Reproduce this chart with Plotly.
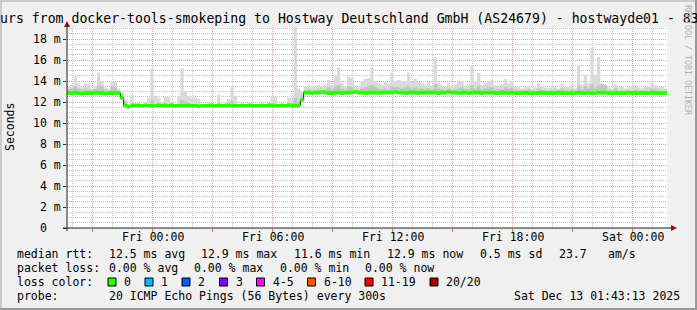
import plotly.graph_objects as go
import pandas as pd

# ---------------- data ----------------
START = "2025-12-11 19:43:13"
END = "2025-12-13 01:43:13"
STEP = "10min"

median_ms = [
    12.85, 12.85, 12.9, 12.85, 12.8, 12.85, 12.85, 12.85, 12.9, 12.85,
    12.85, 12.8, 12.85, 12.85, 12.85, 12.85, 12.4, 11.65, 11.55, 11.65,
    11.7, 11.65, 11.65, 11.7, 11.65, 11.65, 11.65, 11.7, 11.65, 11.65,
    11.65, 11.7, 11.65, 11.65, 11.65, 11.65, 11.7, 11.65, 11.65, 11.6,
    11.65, 11.65, 11.65, 11.7, 11.65, 11.65, 11.65, 11.65, 11.7, 11.65,
    11.65, 11.65, 11.65, 11.65, 11.7, 11.65, 11.65, 11.65, 11.65, 11.65,
    11.7, 11.65, 11.65, 11.65, 11.65, 11.65, 11.7, 11.65, 11.65, 11.65,
    12.2, 12.9, 12.9, 12.85, 12.9, 12.9, 12.95, 12.9, 12.85, 12.85,
    12.9, 12.9, 12.85, 12.9, 12.9, 12.9, 12.95, 12.9, 12.9, 12.85,
    12.9, 12.9, 12.9, 12.85, 12.9, 12.9, 12.9, 12.9, 12.95, 12.9,
    12.9, 12.85, 12.9, 12.9, 12.9, 12.85, 12.9, 12.9, 12.9, 12.9,
    12.9, 12.85, 12.9, 12.9, 12.95, 12.9, 12.9, 12.85, 12.9, 12.9,
    12.85, 12.9, 12.9, 12.9, 12.85, 12.9, 12.9, 12.9, 12.85, 12.85,
    12.9, 12.9, 12.85, 12.9, 12.85, 12.85, 12.85, 12.9, 12.85, 12.85,
    12.85, 12.85, 12.9, 12.85, 12.85, 12.85, 12.85, 12.9, 12.85, 12.85,
    12.85, 12.85, 12.85, 12.9, 12.85, 12.85, 12.9, 12.85, 12.85, 12.9,
    12.9, 12.9, 12.85, 12.85, 12.85, 12.85, 12.85, 12.85, 12.9, 12.85,
    12.85, 12.85, 12.85, 12.85, 12.85, 12.9, 12.85, 12.85, 12.85, 12.85,
]

smoke_upper_ms = [
    13.2, 13.3, 13.5, 13.3, 13.1, 13.3, 13.2, 13.1, 13.2, 13.6,
    13.5, 13.1, 13.1, 13.5, 13.4, 13.1, 12.8, 12.0, 11.7, 11.9,
    11.7, 11.7, 11.7, 11.7, 11.8, 12.2, 11.8, 11.8, 11.7, 11.9,
    11.8, 11.7, 11.7, 11.8, 12.2, 12.0, 11.8, 11.8, 11.7, 11.8,
    11.7, 11.7, 11.7, 11.7, 11.7, 11.9, 11.7, 11.7, 11.8, 12.1,
    11.8, 11.7, 11.7, 11.7, 11.7, 11.7, 11.7, 11.7, 11.7, 11.7,
    11.7, 11.9, 11.8, 11.7, 11.7, 11.7, 11.9, 11.9, 12.4, 12.0,
    12.6, 13.1, 13.2, 13.1, 13.1, 13.2, 13.1, 13.2, 13.4, 13.2,
    13.5, 13.6, 13.3, 13.1, 13.5, 13.4, 13.2, 13.1, 13.3, 13.4,
    13.5, 13.6, 13.4, 13.3, 13.2, 13.3, 13.2, 13.5, 13.4, 13.4,
    13.3, 13.4, 13.5, 13.3, 13.4, 13.3, 13.3, 13.2, 13.3, 13.2,
    13.7, 13.3, 13.2, 13.1, 13.3, 13.1, 13.2, 13.3, 13.4, 13.2,
    13.2, 13.6, 13.3, 13.5, 13.2, 13.3, 13.4, 13.4, 13.2, 13.2,
    13.2, 13.4, 13.3, 13.4, 13.1, 13.1, 13.1, 13.1, 13.2, 13.1,
    13.1, 13.3, 13.1, 13.1, 13.1, 13.1, 13.1, 13.1, 13.3, 13.1,
    13.1, 13.2, 13.1, 13.6, 13.2, 13.5, 13.3, 13.7, 13.4, 13.6,
    13.7, 13.6, 13.1, 13.1, 13.3, 13.1, 13.1, 13.1, 13.1, 13.1,
    13.2, 13.1, 13.1, 13.1, 13.1, 13.3, 13.2, 13.1, 13.1, 13.1,
]

smoke_max_ms = [
    13.4, 13.6, 14.5, 13.8, 13.4, 13.8, 13.7, 13.3, 13.5, 14.8,
    14.0, 13.4, 13.3, 14.0, 13.9, 13.3, 12.9, 12.2, 11.8, 12.7,
    11.8, 12.0, 11.8, 12.0, 12.4, 15.2, 12.6, 12.4, 12.0, 12.5,
    12.5, 12.0, 11.8, 12.6, 15.2, 13.0, 12.5, 12.4, 12.4, 12.3,
    11.8, 11.8, 12.0, 11.8, 11.8, 12.7, 11.8, 12.0, 12.3, 13.5,
    12.6, 11.8, 12.0, 11.8, 11.8, 12.0, 11.8, 11.8, 12.0, 11.8,
    11.8, 12.6, 12.5, 11.8, 12.0, 11.8, 12.4, 12.4, 19.4, 13.3,
    13.0, 13.5, 13.6, 13.4, 13.5, 13.6, 13.5, 13.7, 14.1, 13.6,
    14.6, 15.3, 13.8, 13.5, 14.4, 14.3, 13.6, 13.4, 13.9, 14.2,
    14.3, 15.3, 14.0, 13.8, 13.6, 13.9, 13.7, 14.8, 14.0, 14.1,
    13.9, 14.0, 14.8, 13.9, 14.2, 13.9, 13.8, 13.7, 13.9, 13.6,
    16.3, 13.8, 13.6, 13.5, 13.8, 13.5, 13.7, 13.9, 14.0, 13.6,
    13.7, 15.4, 13.9, 14.8, 13.6, 13.8, 14.0, 14.1, 13.6, 13.6,
    13.7, 14.2, 13.8, 14.0, 13.4, 13.5, 13.3, 13.4, 13.5, 13.3,
    13.4, 13.8, 13.5, 13.4, 13.3, 13.5, 13.4, 13.3, 13.8, 13.5,
    13.4, 13.6, 13.3, 15.5, 13.6, 14.6, 13.8, 17.2, 14.6, 16.3,
    13.8, 13.7, 13.4, 13.3, 13.7, 13.4, 13.5, 13.3, 13.4, 13.5,
    13.6, 13.4, 13.3, 13.5, 13.4, 13.8, 13.6, 13.4, 13.5, 13.3,
]

y_tick_vals = [0, 2, 4, 6, 8, 10, 12, 14, 16, 18]
y_tick_text = ["0\u00a0\u00a0", "2 m", "4 m", "6 m", "8 m", "10 m", "12 m", "14 m", "16 m", "18 m"]

title_text = "urs from docker-tools-smokeping to Hostway Deutschland GmbH (AS24679) - hostwayde01 - 83"
rtt_items = ["median rtt:", "12.5 ms avg", "12.9 ms max", "11.6 ms min", "12.9 ms now", "0.5 ms sd", "23.7", "am/s"]
loss_items = ["packet loss:", "0.00 % avg", "0.00 % max", "0.00 % min", "0.00 % now"]
loss_labels = ["0", "1", "2", "3", "4-5", "6-10", "11-19", "20/20"]
loss_colors = ["#26ff00", "#00b8ff", "#0059ff", "#7e00ff", "#ff00ff", "#ff5500", "#ff0000", "#a10000"]
probe_items = ["probe:", "20 ICMP Echo Pings (56 Bytes) every 300s", "Sat Dec 13 01:43:13 2025"]

# ---------------- layout geometry ----------------
W, H = 697, 310
L, R, T, B = 67, 30, 27, 82
PW = W - L - R
PH = H - T - B
Y_MAX = 19.15
FONT = "DejaVu Sans Mono"
FS = 11.5


def px(x):
    return (x - L) / PW


def py(y):
    return (H - B - y) / PH


def ts(t):
    return pd.Timestamp(t).strftime("%Y-%m-%d %H:%M:%S")


times = pd.date_range(START, periods=len(median_ms), freq=STEP)
xs = [ts(t) for t in times] + [ts(END)]


def ext(v):
    return list(v) + [v[-1]]


BAND = 0.17
fig = go.Figure()
# smoke: light outer layer
fig.add_trace(go.Scatter(x=xs, y=ext(median_ms), mode="lines", line=dict(width=0, shape="hv"),
                         hoverinfo="skip", showlegend=False))
fig.add_trace(go.Scatter(x=xs, y=ext(smoke_max_ms), mode="lines", line=dict(width=0, shape="hv"),
                         fill="tonexty", fillcolor="#dadada", hoverinfo="skip", showlegend=False))
# smoke: darker inner layer
fig.add_trace(go.Scatter(x=xs, y=ext(median_ms), mode="lines", line=dict(width=0, shape="hv"),
                         hoverinfo="skip", showlegend=False))
fig.add_trace(go.Scatter(x=xs, y=ext(smoke_upper_ms), mode="lines", line=dict(width=0, shape="hv"),
                         fill="tonexty", fillcolor="#c4c4c4", hoverinfo="skip", showlegend=False))
# thin dark median line
fig.add_trace(go.Scatter(x=xs, y=ext(median_ms), mode="lines", line=dict(width=1, shape="hv", color="#202020"),
                         hoverinfo="skip", showlegend=False))
# loss-coloured median band
fig.add_trace(go.Scatter(x=xs, y=[v - BAND for v in ext(median_ms)], mode="lines",
                         line=dict(width=0, shape="hv"), hoverinfo="skip", showlegend=False))
fig.add_trace(go.Scatter(x=xs, y=[v + BAND for v in ext(median_ms)], mode="lines",
                         line=dict(width=0, shape="hv"), fill="tonexty", fillcolor=loss_colors[0],
                         hoverinfo="skip", showlegend=False))

major_x = pd.date_range("2025-12-11 21:00", "2025-12-13 00:00", freq="3h")
minor_x = [t for t in pd.date_range("2025-12-11 20:00", "2025-12-13 01:00", freq="1h") if t.hour % 3 != 0]
minor_y = [v / 2 for v in range(1, 39) if v % 4 != 0]

MAJOR_GRID = "rgba(215,85,85,0.55)"
MINOR_GRID = "rgba(140,140,140,0.5)"

fig.update_layout(
    width=W, height=H,
    margin=dict(l=L, r=R, t=T, b=B, pad=0),
    paper_bgcolor="#f0f0f0", plot_bgcolor="#ffffff",
    font=dict(family=FONT, size=FS, color="#000000"),
    showlegend=False,
    xaxis=dict(
        type="date", range=[xs[0], xs[-1]],
        tickmode="array",
        tickvals=[ts(t) for t in major_x],
        showticklabels=False,
        showgrid=True, gridcolor=MAJOR_GRID, griddash="1px,1px", gridwidth=1,
        minor=dict(tickmode="array", tickvals=[ts(t) for t in minor_x],
                   showgrid=True, gridcolor=MINOR_GRID, griddash="1px,1px", gridwidth=1, ticks=""),
        ticks="outside", ticklen=3, tickcolor="rgba(215,85,85,0.8)",
        showline=False, zeroline=False, fixedrange=True,
    ),
    yaxis=dict(
        range=[0, Y_MAX],
        tickmode="array", tickvals=y_tick_vals, ticktext=y_tick_text,
        showgrid=True, gridcolor=MAJOR_GRID, griddash="1px,1px", gridwidth=1,
        minor=dict(tickmode="array", tickvals=minor_y, showgrid=True, gridcolor=MINOR_GRID,
                   griddash="1px,1px", gridwidth=1, ticks=""),
        ticks="outside", ticklen=3, tickcolor="#303030",
        showline=False, zeroline=False, fixedrange=True,
        tickfont=dict(family=FONT, size=FS, color="#000000"),
    ),
)

shapes = []
# 3-D frame
shapes.append(dict(type="rect", xref="paper", yref="paper", x0=px(0), x1=px(W), y0=py(2), y1=py(0),
                   fillcolor="#cbcbcb", line=dict(width=0), layer="below"))
shapes.append(dict(type="rect", xref="paper", yref="paper", x0=px(0), x1=px(2), y0=py(H), y1=py(0),
                   fillcolor="#cbcbcb", line=dict(width=0), layer="below"))
shapes.append(dict(type="rect", xref="paper", yref="paper", x0=px(0), x1=px(W), y0=py(H), y1=py(H - 2),
                   fillcolor="#999999", line=dict(width=0)))
shapes.append(dict(type="rect", xref="paper", yref="paper", x0=px(W - 2), x1=px(W), y0=py(H), y1=py(0),
                   fillcolor="#999999", line=dict(width=0)))
# axes
shapes.append(dict(type="line", xref="paper", yref="paper", x0=px(67), x1=px(67), y0=py(231), y1=py(25),
                   line=dict(color="#202020", width=1)))
shapes.append(dict(type="line", xref="paper", yref="paper", x0=px(63), x1=px(672), y0=py(228), y1=py(228),
                   line=dict(color="#202020", width=1)))
shapes.append(dict(type="path", xref="paper", yref="paper",
                   path=f"M {px(67)} {py(21)} L {px(64)} {py(27)} L {px(70)} {py(27)} Z",
                   fillcolor="#8b1010", line=dict(width=0)))
shapes.append(dict(type="path", xref="paper", yref="paper",
                   path=f"M {px(677)} {py(228)} L {px(671)} {py(225)} L {px(671)} {py(231)} Z",
                   fillcolor="#8b1010", line=dict(width=0)))

ann = []


def text(x, y, s, size=FS, color="#000000", angle=0, xanchor="left"):
    ann.append(dict(x=px(x), y=py(y), xref="paper", yref="paper", text=s, showarrow=False,
                    xanchor=xanchor, yanchor="middle", borderpad=0, textangle=angle,
                    font=dict(family=FONT, size=size, color=color)))


# x tick labels (every 6 hours), placed on the date axis
for t in major_x:
    if t.hour % 6 == 0:
        ann.append(dict(x=ts(t), y=py(237), xref="x", yref="paper", text=t.strftime("%a %H:%M"),
                        showarrow=False, xanchor="center", yanchor="middle", borderpad=0,
                        font=dict(family=FONT, size=FS, color="#000000")))

text(-1, 19, title_text, size=13.2)
text(10, 127, "Seconds", angle=-90, xanchor="center")
text(688, 60, "RRDTOOL / TOBI OETIKER", size=8.3, color="#b0b0b0", angle=90, xanchor="center")

for s, x in zip(rtt_items, [16, 107.6, 200, 293, 386, 479, 558, 607]):
    text(x, 254, s)
for s, x in zip(loss_items, [16, 107.6, 192.9, 279, 364.4]):
    text(x, 268, s)
text(16, 282, "loss color:")
for lab, col, bx in zip(loss_labels, loss_colors, [108, 145, 182, 219.5, 256.5, 307.5, 365, 430]):
    shapes.append(dict(type="rect", xref="paper", yref="paper", x0=px(bx), x1=px(bx + 8),
                       y0=py(286), y1=py(278), fillcolor=col, line=dict(color="#000000", width=1)))
    text(bx + 15, 282, lab)
for s, x in zip(probe_items, [16, 107.6, 513.3]):
    text(x, 296, s)

fig.update_layout(shapes=shapes, annotations=ann)
fig.write_html("out.html")
